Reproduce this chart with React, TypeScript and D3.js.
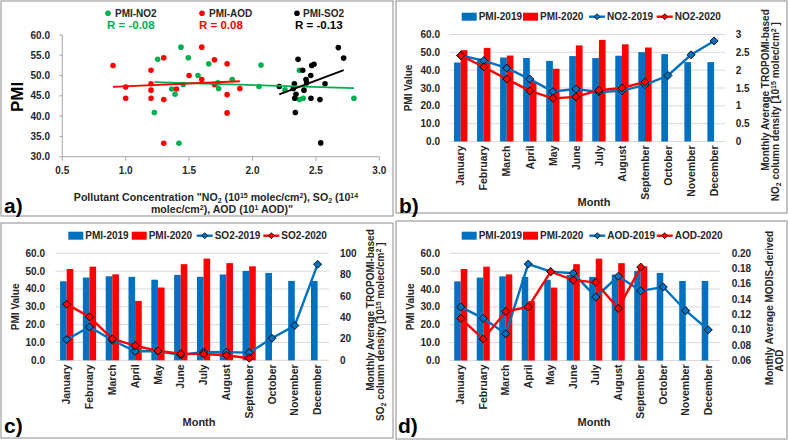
import React from 'react';
import * as d3 from 'd3';

const months = ['January', 'February', 'March', 'April', 'May', 'June', 'July', 'August', 'September', 'October', 'November', 'December'];
const pmi2019 = [44.3, 46.4, 47.1, 46.8, 45.2, 47.9, 46.8, 48.1, 50.1, 49.0, 44.5, 44.5];
const pmi2020 = [51.2, 52.5, 48.2, 33.3, 40.8, 53.9, 57.0, 54.5, 52.7];
const no2_2019 = [2.41, 2.27, 2.06, 1.75, 1.40, 1.47, 1.39, 1.42, 1.59, 1.85, 2.43, 2.82];
const no2_2020 = [2.41, 2.09, 1.75, 1.42, 1.21, 1.25, 1.44, 1.50, 1.67];
const so2_2019 = [19.4, 31.2, 18.7, 8.4, 8.7, 5.0, 7.8, 7.5, 7.2, 20.6, 32.5, 89.7];
const so2_2020 = [52.5, 40.6, 20.0, 13.7, 8.7, 6.2, 5.9, 4.7, 1.9];
const aod2019 = [0.130, 0.115, 0.095, 0.186, 0.176, 0.174, 0.143, 0.170, 0.151, 0.156, 0.125, 0.100];
const aod2020 = [0.115, 0.088, 0.124, 0.130, 0.176, 0.165, 0.162, 0.128, 0.182];

const pmiTicks = [0, 10, 20, 30, 40, 50, 60];
const no2Ticks = [0, 0.5, 1, 1.5, 2, 2.5, 3];
const so2Ticks = [0, 20, 40, 60, 80, 100];
const aodTicks = [0.06, 0.08, 0.10, 0.12, 0.14, 0.16, 0.18, 0.20];

// scatter (panel a)
const scNo2X = [2.40, 2.256, 2.051, 1.733, 1.389, 1.454, 1.363, 1.570, 1.840, 2.37, 2.80, 2.37, 2.067, 1.728, 1.420, 1.226, 1.252, 1.436, 1.494, 1.655];
const scNo2Y = [44.4, 46.5, 47.3, 46.8, 45.4, 47.8, 46.7, 50.0, 49.0, 44.1, 44.4, 51.3, 52.6, 48.2, 33.3, 40.9, 54.0, 57.0, 54.4, 52.9];
const scAodX = [0.9, 1.0, 1.0, 1.2, 1.2, 1.2, 1.2, 1.3, 1.3, 1.3, 1.4, 1.5, 1.6, 1.6, 1.7, 1.7, 1.8, 1.8, 1.8, 1.9];
const scAodY = [52.5, 47.2, 44.4, 51.3, 48.0, 46.4, 44.4, 54.4, 44.1, 33.3, 46.7, 50.0, 57.0, 49.0, 53.9, 47.8, 52.9, 45.3, 40.8, 46.8];
const scSo2X = [2.677, 2.719, 2.359, 2.467, 2.485, 2.396, 2.459, 2.422, 2.427, 2.330, 2.211, 2.572, 2.322, 2.406, 2.343, 2.333, 2.461, 2.532, 2.338, 2.538];
const scSo2Y = [56.9, 54.3, 54.0, 52.5, 52.8, 51.3, 50.0, 49.0, 48.2, 48.0, 47.3, 48.0, 46.8, 46.4, 45.4, 44.4, 44.4, 44.1, 40.9, 33.4];
const trendSlope = [-0.956, 1.4, 11.72]; // NO2, AOD, SO2
const trendIntercept = [49.57, 45.94, 19.47];
const scXTicks = [0.5, 1.0, 1.5, 2.0, 2.5, 3.0];
const scYTicks = [30, 35, 40, 45, 50, 55, 60];

const FONT = "'Liberation Sans', Arial, sans-serif";
const BLUE = '#0070c0';
const RED = '#ff0000';
const GREEN = '#00b050';
const TXT = '#262626';

const diamond = (s: number) => `M0,${-s}L${s},0L0,${s}L${-s},0Z`;

function ScatterPanel() {
  const x = d3.scaleLinear().domain([0.5, 3]).range([62.3, 379.3]);
  const y = d3.scaleLinear().domain([30, 60]).range([156.7, 35]);
  const series = [
    { xs: scNo2X, ys: scNo2Y, color: GREEN },
    { xs: scAodX, ys: scAodY, color: RED },
    { xs: scSo2X, ys: scSo2Y, color: '#000' },
  ];
  const legend = [
    { dx: 108, tx: 115, rx: 107, label: 'PMI-NO2', r: 'R = -0.08', color: GREEN },
    { dx: 202, tx: 209, rx: 199, label: 'PMI-AOD', r: 'R = 0.08', color: RED },
    { dx: 297, tx: 303, rx: 295, label: 'PMI-SO2', r: 'R = -0.13', color: '#000' },
  ];
  return (
    <g fontFamily={FONT} fontWeight="bold">
      <line x1={x(0.5)} x2={x(0.5)} y1={y(30)} y2={y(60)} stroke="#a6a6a6" />
      <line x1={x(0.5)} x2={x(3)} y1={y(30)} y2={y(30)} stroke="#a6a6a6" />
      {scYTicks.map(t => (
        <g key={t}>
          <line x1={x(0.5) - 3} x2={x(0.5)} y1={y(t)} y2={y(t)} stroke="#a6a6a6" />
          <text x={50} y={y(t)} dy="0.35em" textAnchor="end" fontSize={10} fill={TXT}>{t.toFixed(1)}</text>
        </g>
      ))}
      {scXTicks.map(t => (
        <g key={t}>
          <line x1={x(t)} x2={x(t)} y1={y(30)} y2={y(30) + 4} stroke="#a6a6a6" />
          <text x={x(t)} y={y(30) + 17} textAnchor="middle" fontSize={10} fill={TXT}>{t.toFixed(1)}</text>
        </g>
      ))}
      {series.map((s, si) => (
        <g key={si}>
          {s.xs.map((xv, i) => (
            <circle key={i} cx={x(xv)} cy={y(s.ys[i])} r={2.8} fill={s.color} />
          ))}
        </g>
      ))}
      {series.map((s, si) => {
        const xmin = d3.min(s.xs) as number;
        const xmax = d3.max(s.xs) as number;
        return (
          <line key={'t' + si} x1={x(xmin)} x2={x(xmax)}
            y1={y(trendSlope[si] * xmin + trendIntercept[si])}
            y2={y(trendSlope[si] * xmax + trendIntercept[si])}
            stroke={s.color} strokeWidth={1.8} />
        );
      })}
      {legend.map(l => (
        <g key={l.label}>
          <circle cx={l.dx} cy={13.3} r={2.8} fill={l.color} />
          <text x={l.tx} y={17} fontSize={10} fill={TXT}>{l.label}</text>
          <text x={l.rx} y={29} fontSize={11.5} fill={l.color}>{l.r}</text>
        </g>
      ))}
      <text transform="translate(17,97) rotate(-90)" textAnchor="middle" dy="0.35em" fontSize={17} fill="#000">PMI</text>
      <text x={216} y={201} textAnchor="middle" fontSize={10.6} fill={TXT}>
        Pollutant Concentration "NO<tspan dy={2} fontSize={7}>2</tspan><tspan dy={-2}> (10</tspan><tspan dy={-3} fontSize={7}>15</tspan><tspan dy={3}> molec/cm</tspan><tspan dy={-3} fontSize={7}>2</tspan><tspan dy={3}>), SO</tspan><tspan dy={2} fontSize={7}>2</tspan><tspan dy={-2}> (10</tspan><tspan dy={-3} fontSize={7}>14</tspan>
      </text>
      <text x={222} y={213} textAnchor="middle" fontSize={10.6} fill={TXT}>
        molec/cm<tspan dy={-3} fontSize={7}>2</tspan><tspan dy={3}>), AOD (10</tspan><tspan dy={-3} fontSize={7}>1</tspan><tspan dy={3}> AOD)"</tspan>
      </text>
      <text x={4} y={213} fontSize={21} fill="#000">a)</text>
    </g>
  );
}

type ComboCfg = {
  x0: number; x1: number; yTop: number; yBot: number;
  leftLabelX: number; rightLabelX: number;
  rightDomain: [number, number]; rightTicks: number[]; rightFmt: (v: number) => string;
  line2019: number[]; line2020: number[]; lineName: string;
  legendY: number; legendX: number[];
  yLabelX: number; monthX: number; monthY: number;
  letter: string; letterX: number; letterY: number;
  rt1: { x: number; y: number; }; rt2: { x: number; y: number; };
  rtLine1: string; rtLine2: any;
};

function ComboPanel({ c }: { c: ComboCfg }) {
  const band = d3.scaleBand<string>().domain(months).range([c.x0, c.x1]);
  const bw = band.bandwidth();
  const cx = (m: string) => (band(m) as number) + bw / 2;
  const yl = d3.scaleLinear().domain([0, 60]).range([c.yBot, c.yTop]);
  const yr = d3.scaleLinear().domain(c.rightDomain).range([c.yBot, c.yTop]);
  const w = bw * 0.29;
  const line = d3.line<number>().x((_, i) => cx(months[i])).y(v => yr(v));
  const lx = c.legendX;
  const ly = c.legendY;
  return (
    <g fontFamily={FONT} fontWeight="bold">
      {pmiTicks.map(t => (
        <g key={t}>
          <line x1={c.x0} x2={c.x1} y1={yl(t)} y2={yl(t)} stroke="#d9d9d9" />
          <text x={c.leftLabelX} y={yl(t)} dy="0.35em" textAnchor="end" fontSize={10} fill={TXT}>{t.toFixed(1)}</text>
        </g>
      ))}
      {c.rightTicks.map(t => (
        <text key={t} x={c.rightLabelX} y={yr(t)} dy="0.35em" fontSize={10} fill={TXT}>{c.rightFmt(t)}</text>
      ))}
      {pmi2019.map((v, i) => (
        <rect key={'b' + i} x={cx(months[i]) - w} y={yl(v)} width={w} height={yl(0) - yl(v)} fill={BLUE} />
      ))}
      {pmi2020.map((v, i) => (
        <rect key={'r' + i} x={cx(months[i])} y={yl(v)} width={w} height={yl(0) - yl(v)} fill={RED} />
      ))}
      <path d={line(c.line2019) as string} fill="none" stroke={BLUE} strokeWidth={2.4} />
      <path d={line(c.line2020) as string} fill="none" stroke={RED} strokeWidth={2.4} />
      {c.line2019.map((v, i) => (
        <path key={'db' + i} d={diamond(4)} transform={`translate(${cx(months[i])},${yr(v)})`} fill={BLUE} stroke="#000" strokeWidth={0.9} />
      ))}
      {c.line2020.map((v, i) => (
        <path key={'dr' + i} d={diamond(4)} transform={`translate(${cx(months[i])},${yr(v)})`} fill={RED} stroke="#000" strokeWidth={0.9} />
      ))}
      {months.map(m => (
        <text key={m} transform={`translate(${cx(m)},${c.yBot + 4}) rotate(-90)`} textAnchor="end" dy="0.35em" fontSize={10.5} fill={TXT}>{m}</text>
      ))}
      <rect x={lx[0]} y={ly - 4} width={15} height={8} fill={BLUE} />
      <text x={lx[0] + 17} y={ly} dy="0.35em" fontSize={10} fill={TXT}>PMI-2019</text>
      <rect x={lx[1]} y={ly - 4} width={15} height={8} fill={RED} />
      <text x={lx[1] + 17} y={ly} dy="0.35em" fontSize={10} fill={TXT}>PMI-2020</text>
      <line x1={lx[2]} x2={lx[2] + 16} y1={ly} y2={ly} stroke={BLUE} strokeWidth={2.4} />
      <path d={diamond(3)} transform={`translate(${lx[2] + 8},${ly})`} fill={BLUE} stroke="#000" strokeWidth={0.8} />
      <text x={lx[2] + 18} y={ly} dy="0.35em" fontSize={10} fill={TXT}>{c.lineName}-2019</text>
      <line x1={lx[3]} x2={lx[3] + 16} y1={ly} y2={ly} stroke={RED} strokeWidth={2.4} />
      <path d={diamond(3)} transform={`translate(${lx[3] + 8},${ly})`} fill={RED} stroke="#000" strokeWidth={0.8} />
      <text x={lx[3] + 18} y={ly} dy="0.35em" fontSize={10} fill={TXT}>{c.lineName}-2020</text>
      <text transform={`translate(${c.yLabelX},${(c.yTop + c.yBot) / 2}) rotate(-90)`} textAnchor="middle" dy="0.35em" fontSize={10} fill={TXT}>PMI Value</text>
      <text x={c.monthX} y={c.monthY} textAnchor="middle" dy="0.35em" fontSize={11} fill={TXT}>Month</text>
      <text transform={`translate(${c.rt1.x},${c.rt1.y}) rotate(-90)`} textAnchor="middle" dy="0.35em" fontSize={10} fill={TXT}>{c.rtLine1}</text>
      <text transform={`translate(${c.rt2.x},${c.rt2.y}) rotate(-90)`} textAnchor="middle" dy="0.35em" fontSize={10} fill={TXT}>{c.rtLine2}</text>
      <text x={c.letterX} y={c.letterY} fontSize={21} fill="#000">{c.letter}</text>
    </g>
  );
}

const densityLine = (gas: string) => (
  <>
    {gas}<tspan dy={2} fontSize={7}>2</tspan><tspan dy={-2}> column density [10</tspan><tspan dy={-3} fontSize={7}>15</tspan><tspan dy={3}> molec/cm</tspan><tspan dy={-3} fontSize={7}>2</tspan><tspan dy={3}> ]</tspan>
  </>
);

const fmtNo2 = (v: number) => String(v);
const fmtSo2 = (v: number) => String(v);
const fmtAod = (v: number) => v.toFixed(2);

const cfgB: ComboCfg = {
  x0: 449.2, x1: 725.6, yTop: 34.5, yBot: 141.5, leftLabelX: 440, rightLabelX: 735.7,
  rightDomain: [0, 3], rightTicks: no2Ticks, rightFmt: fmtNo2,
  line2019: no2_2019, line2020: no2_2020, lineName: 'NO2',
  legendY: 16.7, legendX: [461.7, 523, 589, 656.7],
  yLabelX: 408.3, monthX: 594, monthY: 201.7,
  letter: 'b)', letterX: 399, letterY: 213,
  rt1: { x: 765, y: 90 }, rt2: { x: 775, y: 111.7 },
  rtLine1: 'Monthly Average TROPOMI-based', rtLine2: densityLine('NO'),
};
const cfgC: ComboCfg = {
  x0: 55.3, x1: 329, yTop: 253.3, yBot: 360.3, leftLabelX: 45, rightLabelX: 340,
  rightDomain: [0, 100], rightTicks: so2Ticks, rightFmt: fmtSo2,
  line2019: so2_2019, line2020: so2_2020, lineName: 'SO2',
  legendY: 235.7, legendX: [68.3, 131.7, 196.7, 263.3],
  yLabelX: 15, monthX: 199, monthY: 421.7,
  letter: 'c)', letterX: 4, letterY: 433,
  rt1: { x: 370.7, y: 310 }, rt2: { x: 380.7, y: 331.7 },
  rtLine1: 'Monthly Average TROPOMI-based', rtLine2: densityLine('SO'),
};
const cfgD: ComboCfg = {
  x0: 449.5, x1: 719.5, yTop: 253.3, yBot: 360.5, leftLabelX: 440, rightLabelX: 731.7,
  rightDomain: [0.06, 0.20], rightTicks: aodTicks, rightFmt: fmtAod,
  line2019: aod2019, line2020: aod2020, lineName: 'AOD',
  legendY: 235.7, legendX: [461.7, 523, 589.3, 656.7],
  yLabelX: 410, monthX: 594, monthY: 421.7,
  letter: 'd)', letterX: 398, letterY: 433,
  rt1: { x: 769, y: 308 }, rt2: { x: 779, y: 360.7 },
  rtLine1: 'Monthly Average MODIS-derived', rtLine2: 'AOD',
};

export default function App() {
  return (
    <svg width={789} height={441} style={{ position: 'absolute', left: 0, top: 0, background: '#fff' }}>
      <rect x={0} y={0} width={789} height={441} fill="#fff" />
      <rect x={1} y={1} width={392} height={215} fill="none" stroke="#8c8c8c" />
      <rect x={396} y={1} width={391} height={212} fill="none" stroke="#8c8c8c" />
      <rect x={1} y={223} width={392} height={215} fill="none" stroke="#8c8c8c" />
      <rect x={396} y={221} width={391} height={218} fill="none" stroke="#8c8c8c" />
      <ScatterPanel />
      <ComboPanel c={cfgB} />
      <ComboPanel c={cfgC} />
      <ComboPanel c={cfgD} />
    </svg>
  );
}
